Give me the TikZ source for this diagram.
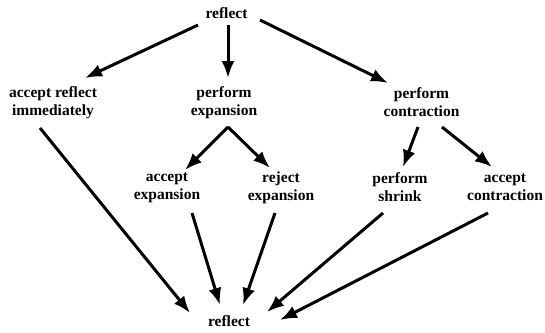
\documentclass[tikz,border=0pt]{standalone}
\usepackage{fontspec}
\setmainfont{Liberation Serif}
\usetikzlibrary{arrows.meta}

\begin{document}
\begin{tikzpicture}[x=1pt,y=-1pt]
        % Define styles
        \tikzset{
            stepnode/.style={align=center, inner sep=2pt, font=\bfseries\fontsize{15.5}{18}\selectfont},
            flow/.style={-{Latex[length=17pt,width=13pt]}, line width=3pt}
        }
        \useasboundingbox (0,0) rectangle (545,332);
        % Start and end of the step
        \node[stepnode] (top) at (226.5,13) {reflect};
        \node[stepnode] (bot) at (229,321) {reflect};
        % First choice
        \node[stepnode] (acc) at (53,102.5) {accept reflect\\immediately};
        \node[stepnode] (exp) at (224,102.5) {perform\\expansion};
        \node[stepnode] (con) at (421.5,102.5) {perform\\contraction};
        % Second choice
        \node[stepnode] (accE) at (167,187.5) {accept\\expansion};
        \node[stepnode] (rej) at (281,187.5) {reject\\expansion};
        \node[stepnode] (shr) at (400,187.5) {perform\\shrink};
        \node[stepnode] (accC) at (505,187.5) {accept\\contraction};
        % Arrows out of reflect
        \draw[flow] ([shift={(-28.5,12)}]top.center) -- ([shift={(32,-24.5)}]acc.center);
        \draw[flow] ([shift={(1.5,12)}]top.center) -- ([shift={(4,-24.5)}]exp.center);
        \draw[flow] ([shift={(33.5,7)}]top.center) -- ([shift={(-33.5,-19.5)}]con.center);
        % Expansion and contraction
        \draw[flow] ([shift={(4,24.5)}]exp.center) -- ([shift={(18,-17.5)}]accE.center);
        \draw[flow] ([shift={(4,24.5)}]exp.center) -- ([shift={(-11,-19.5)}]rej.center);
        \draw[flow] ([shift={(-3.5,24.5)}]con.center) -- ([shift={(3,-20.5)}]shr.center);
        \draw[flow] ([shift={(20.5,24.5)}]con.center) -- ([shift={(-13,-20.5)}]accC.center);
        % Back to reflect
        \draw[flow] ([shift={(-13,25.5)}]acc.center) -- ([shift={(-39,-8)}]bot.center);
        \draw[flow] ([shift={(25,25.5)}]accE.center) -- ([shift={(-9,-16)}]bot.center);
        \draw[flow] ([shift={(-6,25.5)}]rej.center) -- ([shift={(14,-16)}]bot.center);
        \draw[flow] ([shift={(-17,25.5)}]shr.center) -- ([shift={(38,-9)}]bot.center);
        \draw[flow] ([shift={(-17,25.5)}]accC.center) -- ([shift={(51,-1)}]bot.center);
\end{tikzpicture}
\end{document}
